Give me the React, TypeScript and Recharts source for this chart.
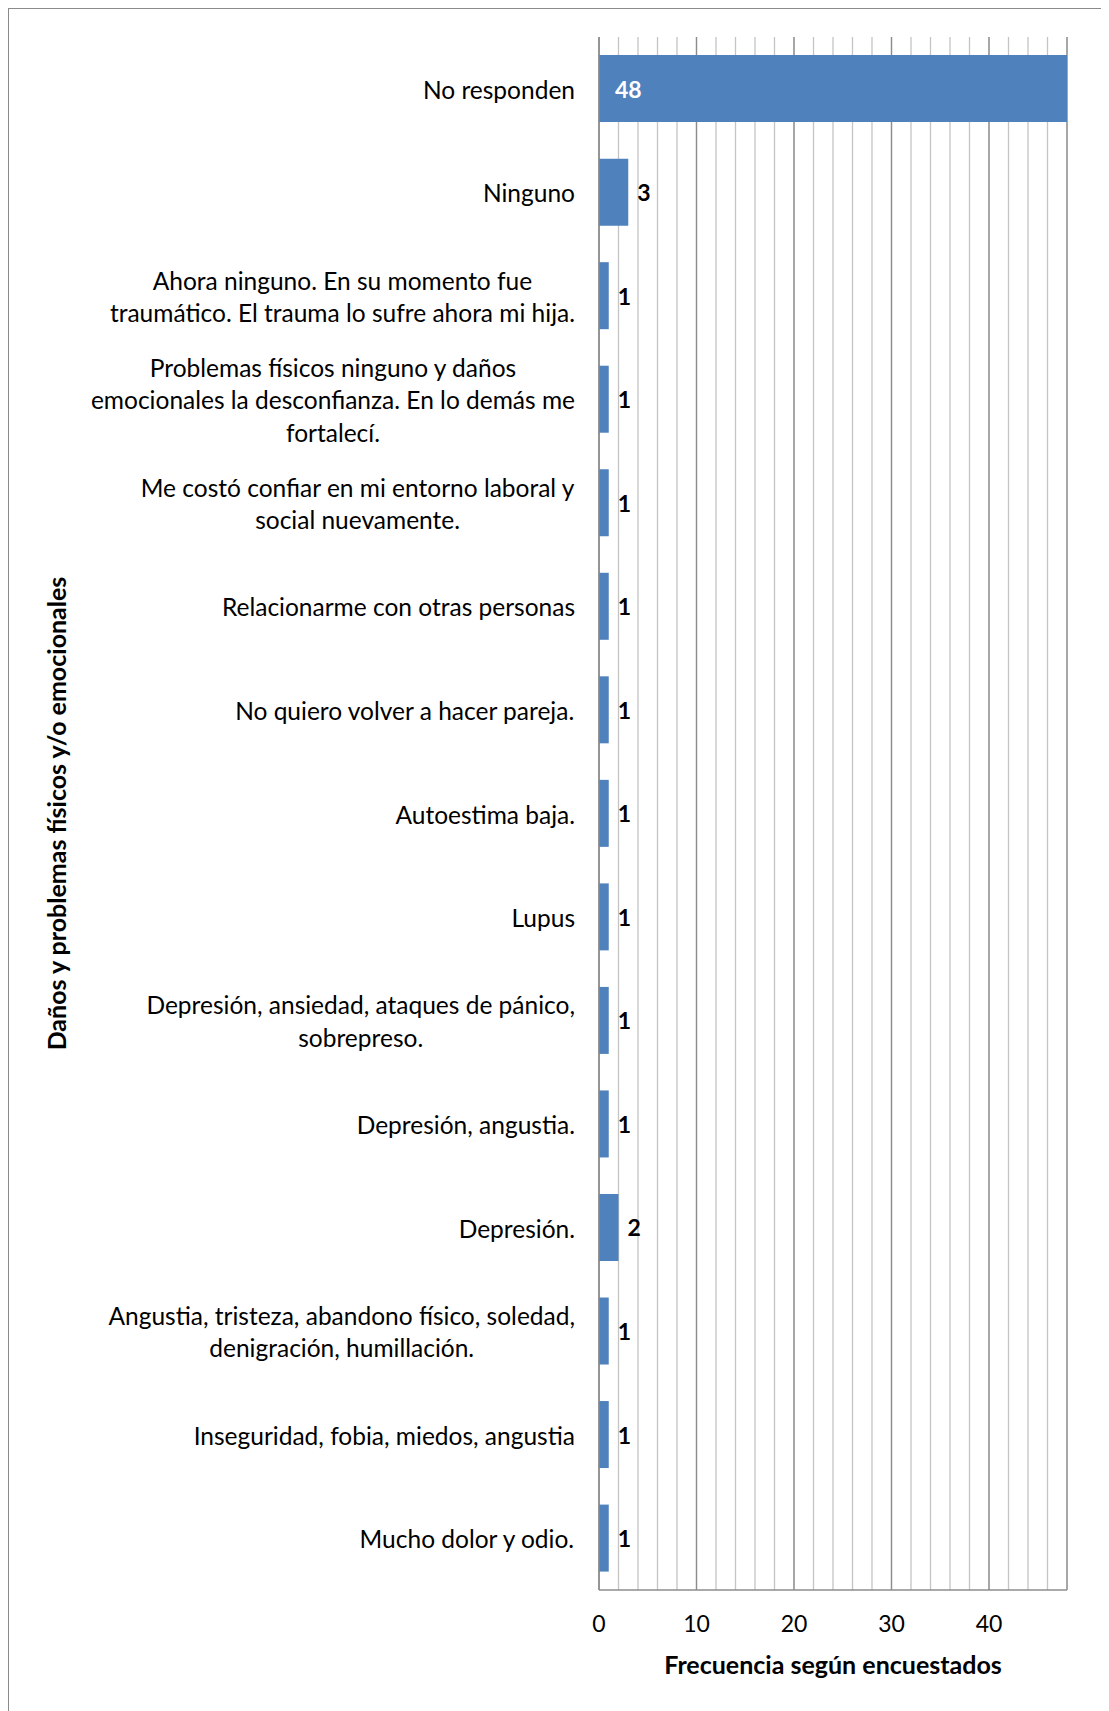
import React from 'react';
import {
  BarChart,
  Bar,
  XAxis,
  YAxis,
  CartesianGrid,
  LabelList,
  Label,
} from 'recharts';

const categories = [
  'No responden',
  'Ninguno',
  'Ahora ninguno. En su momento fue\ntraumático. El trauma lo sufre ahora mi hija.',
  'Problemas físicos ninguno y daños\nemocionales la desconfianza. En lo demás me\nfortalecí.',
  'Me costó confiar en mi entorno laboral y\nsocial nuevamente.',
  'Relacionarme con otras personas',
  'No quiero volver a hacer pareja.',
  'Autoestima baja.',
  'Lupus',
  'Depresión, ansiedad, ataques de pánico,\nsobrepreso.',
  'Depresión, angustia.',
  'Depresión.',
  'Angustia, tristeza, abandono físico, soledad,\ndenigración, humillación.',
  'Inseguridad, fobia, miedos, angustia',
  'Mucho dolor y odio.',
];

const frecuencia = [48, 3, 1, 1, 1, 1, 1, 1, 1, 1, 1, 2, 1, 1, 1];

const xMax = 48;
const majorTicks = [0, 10, 20, 30, 40];
const minorTicks = [0, 2, 4, 6, 8, 10, 12, 14, 16, 18, 20, 22, 24, 26, 28, 30, 32, 34, 36, 38, 40, 42, 44, 46, 48];

const data = categories.map((name, i) => ({ name, value: frecuencia[i] }));

const FONT = 'Lato, "Open Sans", sans-serif';
const LABEL_SIZE = 24.5;

let ctx: CanvasRenderingContext2D | null = null;
const measure = (s: string) => {
  if (!ctx) ctx = document.createElement('canvas').getContext('2d');
  if (!ctx) return s.length * 11;
  ctx.font = `${LABEL_SIZE}px Lato`;
  return ctx.measureText(s).width;
};

// minor gridlines every 2 units, placed with the x axis scale
const minorGrid = ({ xAxis, offset }: any) => {
  const sc = xAxis && xAxis.scale;
  if (typeof sc === 'function') return minorTicks.map((v) => sc(v));
  return minorTicks.map((v) => offset.left + (offset.width * v) / xMax);
};

const CategoryTick = (props: any) => {
  const { x, y, payload } = props;
  const lines: string[] = String(payload.value).split('\n');
  const maxW = Math.max(...lines.map(measure));
  const cx = x - maxW / 2;
  const lh = 32.5;
  const start = y - ((lines.length - 1) * lh) / 2;
  return (
    <text
      textAnchor='middle'
      fontFamily={FONT}
      fontSize={LABEL_SIZE}
      fill='#000'
      dominantBaseline='central'
    >
      {lines.map((l, i) => (
        <tspan key={i} x={cx} y={start + i * lh}>
          {l}
        </tspan>
      ))}
    </text>
  );
};

const ValueLabel = (props: any) => {
  const { x, y, width, height, value } = props;
  const inside = value > 10;
  return (
    <text
      x={inside ? x + 16 : x + width + 9}
      y={y + height / 2}
      dominantBaseline='central'
      fontFamily={FONT}
      fontWeight='bold'
      fontSize={23}
      fill={inside ? '#fff' : '#000'}
    >
      {value}
    </text>
  );
};

const App = () => {
  return (
    <div
      style={{
        width: 1110,
        height: 1710,
        border: '1px solid #8a8a8a',
        background: '#fff',
      }}
    >
      <BarChart
        width={1100}
        height={1700}
        data={data}
        layout='vertical'
        barCategoryGap='17.5%'
        margin={{ top: 28, right: 42, left: 34, bottom: 19 }}
      >
        <CartesianGrid
          horizontal={false}
          stroke='#c4c4c4'
          strokeWidth={1.3}
          verticalCoordinatesGenerator={minorGrid}
        />
        <CartesianGrid horizontal={false} stroke='#8c8c8c' strokeWidth={1.3} />
        <XAxis
          type='number'
          domain={[0, xMax]}
          ticks={majorTicks}
          height={100}
          tickLine={false}
          tickSize={0}
          tickMargin={26}
          axisLine={{ stroke: '#8c8c8c', strokeWidth: 1.3 }}
          tick={{ fontFamily: FONT, fontSize: 23, fill: '#000' }}
        >
          <Label
            value='Frecuencia según encuestados'
            position='insideBottom'
            offset={16}
            dx={0}
            style={{ fontFamily: FONT, fontSize: 25, fontWeight: 'bold', fill: '#000' }}
          />
        </XAxis>
        <YAxis
          type='category'
          dataKey='name'
          width={556}
          tickLine={false}
          tickSize={0}
          tickMargin={24}
          interval={0}
          axisLine={{ stroke: '#8c8c8c', strokeWidth: 1.3 }}
          tick={<CategoryTick />}
        >
          <Label
            value='Daños y problemas físicos y/o emocionales'
            angle={-90}
            position='insideLeft'
            offset={14}
            style={{
              fontFamily: FONT,
              fontSize: 25,
              fontWeight: 'bold',
              fill: '#000',
              textAnchor: 'middle',
            }}
          />
        </YAxis>
        <Bar dataKey='value' fill='#4f81bd' isAnimationActive={false}>
          <LabelList dataKey='value' content={<ValueLabel />} />
        </Bar>
      </BarChart>
    </div>
  );
};

export default App;
